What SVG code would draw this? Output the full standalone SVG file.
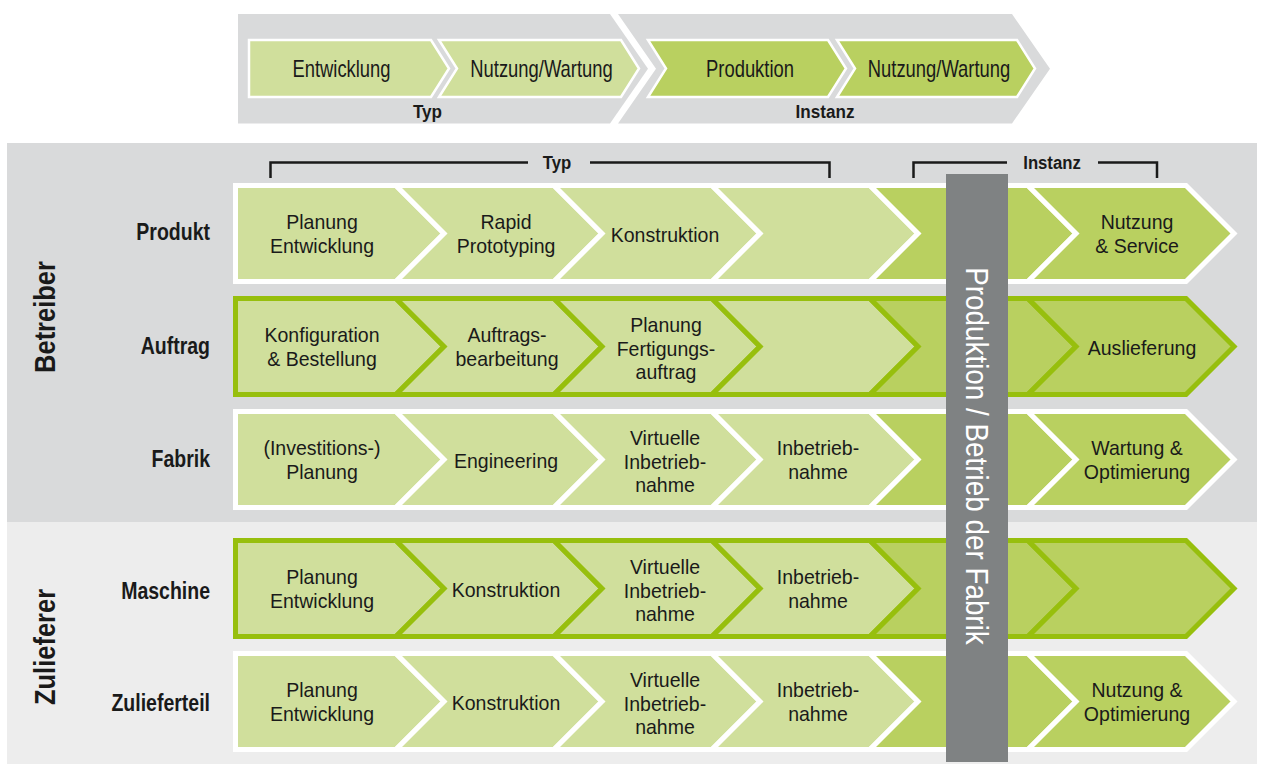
<svg xmlns="http://www.w3.org/2000/svg" xmlns:xlink="http://www.w3.org/1999/xlink" width="1264" height="765" viewBox="0 0 1264 765">
<style>
.t{font-family:"Liberation Sans",Arial,sans-serif;font-size:21px;fill:#1a1a1a;text-anchor:middle}
.tt{font-family:"Liberation Sans",Arial,sans-serif;font-size:23px;fill:#1a1a1a;text-anchor:middle}
.b{font-family:"Liberation Sans",Arial,sans-serif;font-weight:bold;fill:#1a1a1a}
.lbl{font-size:23.5px;text-anchor:end}
.sm{font-size:19px;text-anchor:middle}
.big{font-size:30px;text-anchor:middle}
.light{fill:#d0df9c}
.dark{fill:#b9d060}
.ws{stroke:#ffffff;stroke-width:5;stroke-linejoin:miter}
.gs{stroke:#97bf0d;stroke-width:5;stroke-linejoin:miter}
.tw{stroke:#ffffff;stroke-width:2.5;stroke-linejoin:miter}
.br{fill:none;stroke:#1a1a1a;stroke-width:2.5}
</style>
<defs>
<polygon id="s1" points="235.5,2.5 396,2.5 444,50.5 396,98.5 235.5,98.5"/>
<polygon id="s2" points="396,2.5 554,2.5 602,50.5 554,98.5 396,98.5 444,50.5"/>
<polygon id="s3" points="554,2.5 712,2.5 760,50.5 712,98.5 554,98.5 602,50.5"/>
<polygon id="s4" points="712,2.5 870,2.5 918,50.5 870,98.5 712,98.5 760,50.5"/>
<polygon id="s5" points="870,2.5 1028,2.5 1076,50.5 1028,98.5 870,98.5 918,50.5"/>
<polygon id="s6" points="1028,2.5 1186,2.5 1234,50.5 1186,98.5 1028,98.5 1076,50.5"/>
</defs>

<!-- top overview -->
<g id="band-typ">
<polygon points="238,14 610,14 648,68.75 610,123.5 238,123.5" fill="#d9dadb"/>
<text class="b sm" transform="translate(427.5,0) scale(0.9 1)" x="0" y="118">Typ</text>
</g>
<g id="band-instanz">
<polygon points="618,14 1012,14 1050,68.75 1012,123.5 618,123.5 656,68.75" fill="#d9dadb"/>
<text class="b sm" transform="translate(825,0) scale(0.9 1)" x="0" y="118">Instanz</text>
</g>
<g id="top-entwicklung">
<polygon class="light tw" points="249,40 431,40 449,68.5 431,97 249,97"/>
<text class="tt" transform="translate(341.5,0) scale(0.8 1)" x="0" y="77.5">Entwicklung</text>
</g>
<g id="top-nutzung-typ">
<polygon class="light tw" points="439,40 621,40 639,68.5 621,97 439,97 457,68.5"/>
<text class="tt" transform="translate(541.5,0) scale(0.8 1)" x="0" y="77.5">Nutzung/Wartung</text>
</g>
<g id="top-produktion">
<polygon class="dark tw" points="648,40 828,40 846,68.5 828,97 648,97 666,68.5"/>
<text class="tt" transform="translate(750,0) scale(0.8 1)" x="0" y="77.5">Produktion</text>
</g>
<g id="top-nutzung-instanz">
<polygon class="dark tw" points="837,40 1017,40 1035,68.5 1017,97 837,97 855,68.5"/>
<text class="tt" transform="translate(939,0) scale(0.8 1)" x="0" y="77.5">Nutzung/Wartung</text>
</g>

<!-- backgrounds -->
<rect x="7" y="143" width="1250" height="379" fill="#d9dadb"/>
<rect x="7" y="522" width="1250" height="242" fill="#ededed"/>

<g id="group-betreiber">
<text class="b big" transform="translate(55,317) rotate(-90) scale(0.85 1)" x="0" y="0">Betreiber</text>
</g>
<g id="group-zulieferer">
<text class="b big" transform="translate(55,647) rotate(-90) scale(0.85 1)" x="0" y="0">Zulieferer</text>
</g>

<!-- brackets -->
<g id="connectors">
<path class="br" d="M270.5,178 V162.5 H528 M590,162.5 H829.5 V178"/>
<path class="br" d="M913.5,178 V162.5 H1007 M1098,162.5 H1157 V178"/>
<text class="b sm" transform="translate(557,0) scale(0.88 1)" x="0" y="169">Typ</text>
<text class="b sm" transform="translate(1052,0) scale(0.88 1)" x="0" y="169">Instanz</text>
</g>

<!-- Row Produkt -->
<g id="row-produkt" transform="translate(0,183)">
<text class="b lbl" transform="translate(210,0) scale(0.83 1)" x="0" y="57.5">Produkt</text>
<g id="produkt-1"><use xlink:href="#s1" class="light ws"/><text class="t" transform="translate(322,0) scale(0.93 1)"><tspan x="0" y="46.5">Planung</tspan><tspan x="0" y="70">Entwicklung</tspan></text></g>
<g id="produkt-2"><use xlink:href="#s2" class="light ws"/><text class="t" transform="translate(506,0) scale(0.93 1)"><tspan x="0" y="46.5">Rapid</tspan><tspan x="0" y="70">Prototyping</tspan></text></g>
<g id="produkt-3"><use xlink:href="#s3" class="light ws"/><text class="t" transform="translate(665,0) scale(0.93 1)" x="0" y="59">Konstruktion</text></g>
<g id="produkt-4"><use xlink:href="#s4" class="light ws"/></g>
<g id="produkt-5"><use xlink:href="#s5" class="dark ws"/></g>
<g id="produkt-6"><use xlink:href="#s6" class="dark ws"/><text class="t" transform="translate(1137,0) scale(0.93 1)"><tspan x="0" y="46.5">Nutzung</tspan><tspan x="0" y="70">&amp; Service</tspan></text></g>
</g>

<!-- Row Auftrag -->
<g id="row-auftrag" transform="translate(0,296)">
<text class="b lbl" transform="translate(210,0) scale(0.83 1)" x="0" y="58.5">Auftrag</text>
<g id="auftrag-1"><use xlink:href="#s1" class="light gs"/><text class="t" transform="translate(322,0) scale(0.93 1)"><tspan x="0" y="46.5">Konfiguration</tspan><tspan x="0" y="70">&amp; Bestellung</tspan></text></g>
<g id="auftrag-2"><use xlink:href="#s2" class="light gs"/><text class="t" transform="translate(507,0) scale(0.93 1)"><tspan x="0" y="46.5">Auftrags-</tspan><tspan x="0" y="70">bearbeitung</tspan></text></g>
<g id="auftrag-3"><use xlink:href="#s3" class="light gs"/><text class="t" transform="translate(666,0) scale(0.93 1)"><tspan x="0" y="36.5">Planung</tspan><tspan x="0" y="60">Fertigungs-</tspan><tspan x="0" y="83.5">auftrag</tspan></text></g>
<g id="auftrag-4"><use xlink:href="#s4" class="light gs"/></g>
<g id="auftrag-5"><use xlink:href="#s5" class="dark gs"/></g>
<g id="auftrag-6"><use xlink:href="#s6" class="dark gs"/><text class="t" transform="translate(1142,0) scale(0.93 1)" x="0" y="59">Auslieferung</text></g>
</g>

<!-- Row Fabrik -->
<g id="row-fabrik" transform="translate(0,409)">
<text class="b lbl" transform="translate(210,0) scale(0.83 1)" x="0" y="58.5">Fabrik</text>
<g id="fabrik-1"><use xlink:href="#s1" class="light ws"/><text class="t" transform="translate(322,0) scale(0.93 1)"><tspan x="0" y="46.5">(Investitions-)</tspan><tspan x="0" y="70">Planung</tspan></text></g>
<g id="fabrik-2"><use xlink:href="#s2" class="light ws"/><text class="t" transform="translate(506,0) scale(0.93 1)" x="0" y="59">Engineering</text></g>
<g id="fabrik-3"><use xlink:href="#s3" class="light ws"/><text class="t" transform="translate(665,0) scale(0.93 1)"><tspan x="0" y="36.5">Virtuelle</tspan><tspan x="0" y="60">Inbetrieb-</tspan><tspan x="0" y="83.5">nahme</tspan></text></g>
<g id="fabrik-4"><use xlink:href="#s4" class="light ws"/><text class="t" transform="translate(818,0) scale(0.93 1)"><tspan x="0" y="46.5">Inbetrieb-</tspan><tspan x="0" y="70">nahme</tspan></text></g>
<g id="fabrik-5"><use xlink:href="#s5" class="dark ws"/></g>
<g id="fabrik-6"><use xlink:href="#s6" class="dark ws"/><text class="t" transform="translate(1137,0) scale(0.93 1)"><tspan x="0" y="46.5">Wartung &amp;</tspan><tspan x="0" y="70">Optimierung</tspan></text></g>
</g>

<!-- Row Maschine -->
<g id="row-maschine" transform="translate(0,538)">
<text class="b lbl" transform="translate(210,0) scale(0.83 1)" x="0" y="61.5">Maschine</text>
<g id="maschine-1"><use xlink:href="#s1" class="light gs"/><text class="t" transform="translate(322,0) scale(0.93 1)"><tspan x="0" y="46.5">Planung</tspan><tspan x="0" y="70">Entwicklung</tspan></text></g>
<g id="maschine-2"><use xlink:href="#s2" class="light gs"/><text class="t" transform="translate(506,0) scale(0.93 1)" x="0" y="59">Konstruktion</text></g>
<g id="maschine-3"><use xlink:href="#s3" class="light gs"/><text class="t" transform="translate(665,0) scale(0.93 1)"><tspan x="0" y="36.5">Virtuelle</tspan><tspan x="0" y="60">Inbetrieb-</tspan><tspan x="0" y="83.5">nahme</tspan></text></g>
<g id="maschine-4"><use xlink:href="#s4" class="light gs"/><text class="t" transform="translate(818,0) scale(0.93 1)"><tspan x="0" y="46.5">Inbetrieb-</tspan><tspan x="0" y="70">nahme</tspan></text></g>
<g id="maschine-5"><use xlink:href="#s5" class="dark gs"/></g>
<g id="maschine-6"><use xlink:href="#s6" class="dark gs"/></g>
</g>

<!-- Row Zulieferteil -->
<g id="row-zulieferteil" transform="translate(0,651)">
<text class="b lbl" transform="translate(210,0) scale(0.83 1)" x="0" y="60">Zulieferteil</text>
<g id="zulieferteil-1"><use xlink:href="#s1" class="light ws"/><text class="t" transform="translate(322,0) scale(0.93 1)"><tspan x="0" y="46.5">Planung</tspan><tspan x="0" y="70">Entwicklung</tspan></text></g>
<g id="zulieferteil-2"><use xlink:href="#s2" class="light ws"/><text class="t" transform="translate(506,0) scale(0.93 1)" x="0" y="59">Konstruktion</text></g>
<g id="zulieferteil-3"><use xlink:href="#s3" class="light ws"/><text class="t" transform="translate(665,0) scale(0.93 1)"><tspan x="0" y="36.5">Virtuelle</tspan><tspan x="0" y="60">Inbetrieb-</tspan><tspan x="0" y="83.5">nahme</tspan></text></g>
<g id="zulieferteil-4"><use xlink:href="#s4" class="light ws"/><text class="t" transform="translate(818,0) scale(0.93 1)"><tspan x="0" y="46.5">Inbetrieb-</tspan><tspan x="0" y="70">nahme</tspan></text></g>
<g id="zulieferteil-5"><use xlink:href="#s5" class="dark ws"/></g>
<g id="zulieferteil-6"><use xlink:href="#s6" class="dark ws"/><text class="t" transform="translate(1137,0) scale(0.93 1)"><tspan x="0" y="46.5">Nutzung &amp;</tspan><tspan x="0" y="70">Optimierung</tspan></text></g>
</g>

<!-- vertical bar -->
<g id="bar-produktion">
<rect x="946" y="174" width="62" height="588" fill="#7f8283"/>
<text transform="translate(966,456) rotate(90) scale(0.87 1)" x="0" y="0" style="font-family:'Liberation Sans',Arial,sans-serif;font-size:32px;fill:#ffffff;text-anchor:middle">Produktion / Betrieb der Fabrik</text>
</g>
</svg>
